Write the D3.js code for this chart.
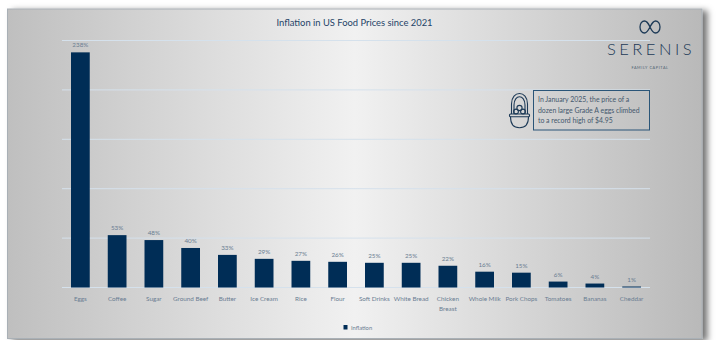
<!DOCTYPE html>
<html>
<head>
<meta charset="utf-8">
<script src="https://cdn.jsdelivr.net/npm/d3@7/dist/d3.min.js"></script>
<style>
  html, body { margin: 0; padding: 0; background: #fff; }
  svg { display: block; }
  text { font-family: "Lato", "Liberation Sans", sans-serif; font-weight: 400; }
</style>
</head>
<body>
<svg id="chart" width="721" height="340"></svg>
<script>
const categories = ["Eggs", "Coffee", "Sugar", "Ground Beef", "Butter", "Ice Cream", "Rice", "Flour",
  "Soft Drinks", "White Bread", "Chicken Breast", "Whole Milk", "Pork Chops", "Tomatoes", "Bananas", "Cheddar"];
const inflation = [238, 53, 48, 40, 33, 29, 27, 26, 25, 25, 22, 16, 15, 6, 4, 1];
const gridTicks = [0, 50, 100, 150, 200, 250];
const titleText = "Inflation in US Food Prices since 2021";
const seriesName = "Inflation";
const calloutLines = ["In January 2025, the price of a", "dozen large Grade A eggs climbed", "to a record high of $4.95"];

const navy = "#002d56", muted = "#6a7d92";
const svg = d3.select("#chart");
const defs = svg.append("defs");

// Horizontal sheen across the panel
const sheen = defs.append("linearGradient").attr("id", "sheen");
[[0, "#bfbfbf"], [0.5, "#f1f1f1"], [1, "#b9b9b9"]].forEach(([o, c]) =>
  sheen.append("stop").attr("offset", o).attr("stop-color", c));

const shadow = defs.append("filter").attr("id", "panelShadow")
  .attr("x", "-5%").attr("y", "-5%").attr("width", "110%").attr("height", "110%");
shadow.append("feDropShadow").attr("dx", 5).attr("dy", 2).attr("stdDeviation", 3)
  .attr("flood-color", "#000").attr("flood-opacity", 0.55);

svg.append("rect").attr("x", 7.5).attr("y", 9).attr("width", 694.5).attr("height", 329.5)
  .attr("fill", "url(#sheen)").attr("stroke", "#a9b0b6").attr("stroke-width", 1)
  .attr("filter", "url(#panelShadow)");

const x = d3.scaleBand().domain(categories).range([62, 650]).paddingInner(0.49).paddingOuter(0.245);
const y = d3.scaleLinear().domain([0, 250]).range([287.5, 40.5]);

// Gridlines
svg.append("g").selectAll("line").data(gridTicks).join("line")
  .attr("x1", 62).attr("x2", 650)
  .attr("y1", d => y(d)).attr("y2", d => y(d))
  .attr("stroke", "#d5e1ec").attr("stroke-width", 1);

// Bars
svg.append("g").selectAll("rect").data(categories).join("rect")
  .attr("x", d => x(d))
  .attr("width", x.bandwidth())
  .attr("y", (d, i) => y(inflation[i]))
  .attr("height", (d, i) => y(0) - y(inflation[i]))
  .attr("fill", navy);

// Value labels
svg.append("g").selectAll("text").data(categories).join("text")
  .attr("x", d => x(d) + x.bandwidth() / 2)
  .attr("y", (d, i) => y(inflation[i]) - 5)
  .attr("text-anchor", "middle")
  .attr("font-size", 6.3)
  .attr("fill", muted)
  .text((d, i) => inflation[i] + "%");

// Category labels, wrapped onto two lines where the band is too narrow
const catLabels = svg.append("g").selectAll("text").data(categories).join("text")
  .attr("text-anchor", "middle")
  .attr("font-size", 6.3)
  .attr("fill", muted);
catLabels.each(function (d) {
  const lines = d === "Chicken Breast" ? d.split(" ") : [d];
  d3.select(this).selectAll("tspan").data(lines).join("tspan")
    .attr("x", x(d) + x.bandwidth() / 2)
    .attr("y", (l, i) => 300.5 + i * 10)
    .text(l => l);
});

// Title
svg.append("text").attr("x", 354.5).attr("y", 26).attr("text-anchor", "middle")
  .attr("font-size", 9.4).attr("fill", "#1f4468").text(titleText);

// Legend
svg.append("rect").attr("x", 343.5).attr("y", 325).attr("width", 4).attr("height", 4.5).attr("fill", navy);
svg.append("text").attr("x", 351).attr("y", 329.5).attr("font-size", 5.8).attr("fill", muted).text(seriesName);

// Logo: infinity mark with wordmark
const logo = svg.append("g").attr("fill", "#1d3a57");
logo.append("path")
  .attr("d", "M650 27 C648 22.5 646 21 644.5 21 C642 21 640 23.6 640 27 C640 30.4 642 33 644.5 33 C647 33 648.5 30 650 27 C651.5 24 653 21 655.5 21 C658 21 660 23.6 660 27 C660 30.4 658 33 655.5 33 C654 33 652 31.5 650 27 Z")
  .attr("fill", "none").attr("stroke", "#1d3a57").attr("stroke-width", 1.3);
logo.append("text").attr("x", 651).attr("y", 55).attr("text-anchor", "middle")
  .attr("font-size", 16.5).attr("letter-spacing", 3.5).style("font-weight", 300).text("SERENIS");
logo.append("text").attr("x", 650).attr("y", 68.5).attr("text-anchor", "middle")
  .attr("font-size", 3.8).attr("letter-spacing", 0.6).attr("fill", "#4d5f72").text("FAMILY CAPITAL");

// Callout box
svg.append("rect").attr("x", 533.5).attr("y", 90.5).attr("width", 116).attr("height", 39.5)
  .attr("fill", "none").attr("stroke", "#2a5578").attr("stroke-width", 1);
svg.append("g").selectAll("text").data(calloutLines).join("text")
  .attr("x", 538).attr("y", (d, i) => 102 + i * 10.7)
  .attr("font-size", 6.9).attr("fill", "#44586d").text(d => d);

// Egg basket icon
const basket = svg.append("g").attr("fill", "none").attr("stroke", "#1d3a57").attr("stroke-width", 1.1);
basket.append("path").attr("d", "M511.5 114 L511.5 104 C511.5 90 527.5 90 527.5 104 L527.5 114");
basket.append("path").attr("d", "M514 114 L514 105 C514 94 525 94 525 105 L525 114");
basket.append("circle").attr("cx", 519.5).attr("cy", 108).attr("r", 2.6);
basket.append("circle").attr("cx", 516).attr("cy", 111.5).attr("r", 2.4);
basket.append("circle").attr("cx", 523).attr("cy", 111.5).attr("r", 2.4);
basket.append("rect").attr("x", 509.5).attr("y", 114).attr("width", 20).attr("height", 2.8).attr("rx", 1);
basket.append("path").attr("d", "M510.5 116.8 C510.5 124.5 514 127.8 519.5 127.8 C525 127.8 528.5 124.5 528.5 116.8");
</script>
</body>
</html>
